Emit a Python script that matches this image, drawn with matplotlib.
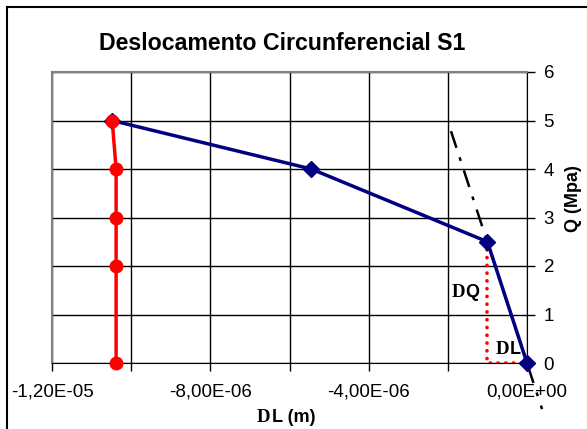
import matplotlib
matplotlib.use("Agg")
import matplotlib.pyplot as plt
from matplotlib.lines import Line2D

# ---- data ----
blue_dl = [0.0, -1.0e-6, -5.45e-6, -10.48e-6]
blue_q = [0.0, 2.5, 4.0, 5.0]
red_dl = [-10.38e-6, -10.38e-6, -10.38e-6, -10.38e-6, -10.48e-6]
red_q = [0.0, 2.0, 3.0, 4.0, 5.0]
tangent_dl = [-1.92e-6, 0.38e-6]
tangent_q = [4.78, -0.95]
tri_dl = [-1.0e-6, -1.0e-6, 0.0]
tri_q = [2.5, 0.0, 0.0]
xtick_vals = [-1.2e-5, -1.0e-5, -8e-6, -6e-6, -4e-6, -2e-6, 0.0]
xtick_labels = ["-1,20E-05", "", "-8,00E-06", "", "-4,00E-06", "", "0,00E+00"]
ytick_vals = [0, 1, 2, 3, 4, 5, 6]
ytick_labels = ["0", "1", "2", "3", "4", "5", "6"]

W, H = 587, 429
fig = plt.figure(figsize=(W / 100, H / 100), dpi=100)
plt.rcParams['font.family'] = ['Liberation Sans', 'DejaVu Sans']

ax = fig.add_axes([52 / W, (H - 363) / H, (527 - 52) / W, (363 - 72) / H])
ax.set_xlim(-1.2e-5, 0)
ax.set_ylim(0, 6)

ax.set_xticks(xtick_vals)
ax.set_xticklabels(xtick_labels, fontsize=13.5)
ax.set_yticks(ytick_vals)
ax.set_yticklabels(ytick_labels, fontsize=13.5)
ax.yaxis.tick_right()
ax.tick_params(axis='x', direction='out', length=6, width=1, color='black', pad=9)
ax.tick_params(axis='y', direction='out', length=6, width=1, color='black', pad=6)
ax.grid(True, color='black', linewidth=1)
ax.set_axisbelow(True)

ax.spines['left'].set_color('#808080')
ax.spines['left'].set_linewidth(1.5)
ax.spines['top'].set_color('#808080')
ax.spines['top'].set_linewidth(1.5)
ax.spines['bottom'].set_color('black')
ax.spines['right'].set_color('black')

# tangent dash-dot line
ax.plot(tangent_dl, tangent_q, color='black', linewidth=1.8,
        dashes=(7, 4, 1.5, 4), clip_on=False, zorder=3)
# red dotted triangle
ax.plot(tri_dl, tri_q, color='red', linewidth=2.6, linestyle=(0, (0.05, 2.1)),
        dash_capstyle='round', solid_capstyle='round', zorder=3)
# blue series
ax.plot(blue_dl, blue_q, color='#000080', linewidth=2.5, marker='D',
        markersize=8, clip_on=False, zorder=4)
# red series
ax.plot(red_dl, red_q, color='red', linewidth=2.5, marker='o',
        markersize=9, clip_on=False, zorder=5)

# annotations
ax.text(-1.90e-6, 1.46, "D", family=['Liberation Serif'], fontsize=13.5,
        fontweight='bold', ha='left', va='center')
ax.text(-1.56e-6, 1.46, "Q", fontsize=13, fontweight='bold', ha='left', va='center')
ax.text(-0.78e-6, 0.28, "D", family=['Liberation Serif'], fontsize=13.5,
        fontweight='bold', ha='left', va='center')
ax.text(-0.44e-6, 0.28, "L", fontsize=13, fontweight='bold', ha='left', va='center')

# title and axis labels
fig.text(282 / W, 1 - 43 / H, "Deslocamento Circunferencial S1", fontsize=16.7,
         fontweight='bold', ha='center', va='center')
fig.text(270 / W, 1 - 417 / H, "D", family=['Liberation Serif'], fontsize=13.5,
         fontweight='bold', ha='right', va='center')
fig.text(272 / W, 1 - 417 / H, "L (m)", fontsize=13, fontweight='bold',
         ha='left', va='center')
fig.text(574 / W, 1 - 199 / H, "Q (Mpa)", fontsize=13, fontweight='bold',
         ha='center', va='center', rotation=90)

# outer border (left & top visible)
fig.add_artist(Line2D([7 / W, 7 / W], [0, 1 - 7 / H], color='black', linewidth=1.5,
                      transform=fig.transFigure))
fig.add_artist(Line2D([7 / W, 1], [1 - 7 / H, 1 - 7 / H], color='black', linewidth=1.5,
                      transform=fig.transFigure))

fig.savefig("out.png", dpi=100)
